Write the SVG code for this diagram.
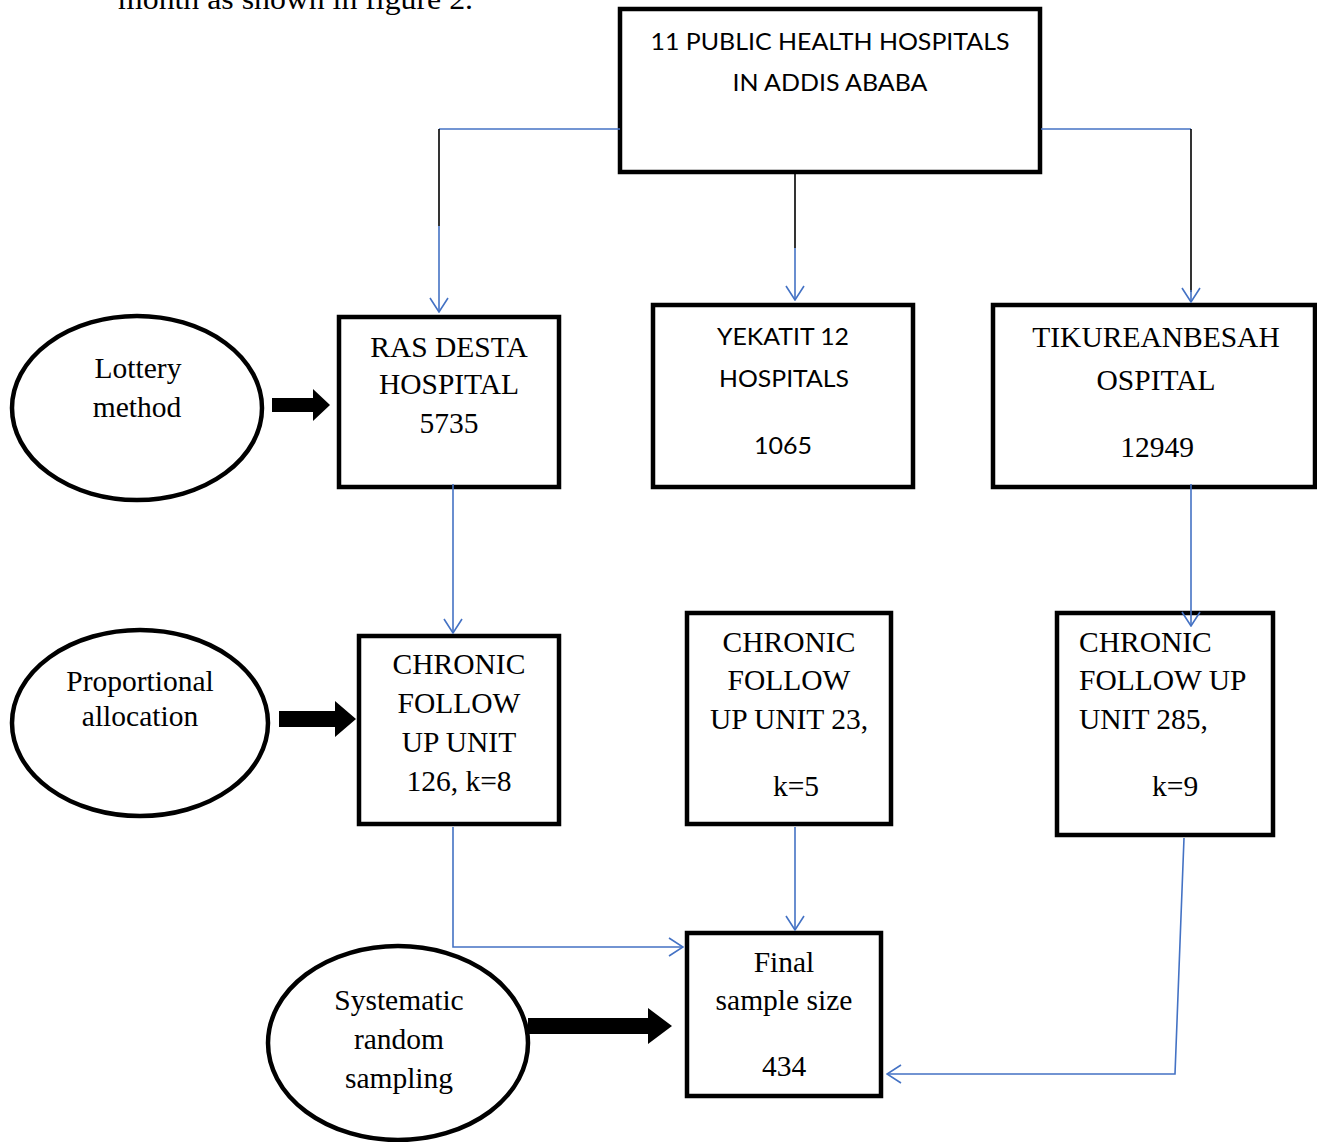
<svg xmlns="http://www.w3.org/2000/svg" width="1317" height="1142" viewBox="0 0 1317 1142">
<style>
.box{fill:#fff;stroke:#000;stroke-width:4.5}
.ell{fill:#fff;stroke:#000;stroke-width:4.5}
.tr{font-family:"Liberation Serif","Times New Roman",serif;font-size:29.5px;fill:#000}
.sn{font-family:Lato,"Liberation Sans",sans-serif;font-size:23px;fill:#000}
.c{text-anchor:middle}
.bl{fill:none;stroke:#4472C4;stroke-width:1.6}
.bk{fill:none;stroke:#000;stroke-width:1.6}
.fat{fill:#000}
</style>
<defs>
<marker id="ah" viewBox="0 0 16 20" refX="15" refY="10" markerWidth="16" markerHeight="20" markerUnits="userSpaceOnUse" orient="auto">
<path d="M1,1 L15,10 L1,19" fill="none" stroke="#4472C4" stroke-width="1.6"/>
</marker>
</defs>
<rect width="1317" height="1142" fill="#fff"/>
<text class="tr" x="118" y="9" font-size="32" textLength="355" lengthAdjust="spacingAndGlyphs">month as shown in figure 2.</text>

<g id="top">
<rect class="box" x="620" y="9" width="420" height="163"/>
<text class="sn c" x="830" y="50" textLength="359" lengthAdjust="spacingAndGlyphs">11 PUBLIC HEALTH HOSPITALS</text>
<text class="sn c" x="830" y="91" textLength="195" lengthAdjust="spacingAndGlyphs">IN ADDIS ABABA</text>
</g>

<g id="rasdesta">
<rect class="box" x="339" y="317" width="220" height="170"/>
<text class="tr c" x="449" y="357">RAS DESTA</text>
<text class="tr c" x="449" y="394">HOSPITAL</text>
<text class="tr c" x="449" y="433">5735</text>
</g>

<g id="yekatit">
<rect class="box" x="653" y="305" width="260" height="182"/>
<text class="sn c" x="783" y="345" textLength="132" lengthAdjust="spacingAndGlyphs">YEKATIT 12</text>
<text class="sn c" x="784" y="387" textLength="130" lengthAdjust="spacingAndGlyphs">HOSPITALS</text>
<text class="sn c" x="783" y="454" textLength="58" lengthAdjust="spacingAndGlyphs">1065</text>
</g>

<g id="tikur">
<rect class="box" x="993" y="305" width="322" height="182"/>
<text class="tr c" x="1156" y="347" font-size="34.5">TIKUREANBESAH</text>
<text class="tr c" x="1156" y="390" font-size="34.5">OSPITAL</text>
<text class="tr c" x="1157" y="457" font-size="34.5">12949</text>
</g>

<g id="lottery">
<ellipse class="ell" cx="137" cy="408" rx="125" ry="92"/>
<text class="tr c" x="138" y="378">Lottery</text>
<text class="tr c" x="137" y="417">method</text>
</g>

<g id="chronic126">
<rect class="box" x="359" y="636" width="200" height="188"/>
<text class="tr c" x="459" y="674">CHRONIC</text>
<text class="tr c" x="459" y="713">FOLLOW</text>
<text class="tr c" x="459" y="752">UP UNIT</text>
<text class="tr c" x="459" y="791">126, k=8</text>
</g>

<g id="proportional">
<ellipse class="ell" cx="140" cy="723" rx="128" ry="93"/>
<text class="tr c" x="140" y="691" font-size="25">Proportional</text>
<text class="tr c" x="140" y="726" font-size="25">allocation</text>
</g>

<g id="chronic23">
<rect class="box" x="687" y="613" width="204" height="211"/>
<text class="tr c" x="789" y="652">CHRONIC</text>
<text class="tr c" x="789" y="690">FOLLOW</text>
<text class="tr c" x="789" y="729">UP UNIT 23,</text>
<text class="tr c" x="796" y="796">k=5</text>
</g>

<g id="chronic285">
<rect class="box" x="1057" y="613" width="216" height="222"/>
<text class="tr" x="1079" y="652">CHRONIC</text>
<text class="tr" x="1079" y="690">FOLLOW UP</text>
<text class="tr" x="1079" y="729">UNIT 285,</text>
<text class="tr" x="1152" y="796">k=9</text>
</g>

<g id="systematic">
<ellipse class="ell" cx="398" cy="1043" rx="130" ry="97"/>
<text class="tr c" x="399" y="1010">Systematic</text>
<text class="tr c" x="399" y="1049">random</text>
<text class="tr c" x="399" y="1088">sampling</text>
</g>

<g id="final">
<rect class="box" x="687" y="933" width="194" height="163"/>
<text class="tr c" x="784" y="972">Final</text>
<text class="tr c" x="784" y="1010">sample size</text>
<text class="tr c" x="784" y="1076">434</text>
</g>

<g id="connectors">
<path class="bl" d="M620,129 H439"/>
<path class="bk" d="M439,129 V226"/>
<path class="bl" d="M439,226 V312" marker-end="url(#ah)"/>
<path class="bk" d="M795,173 V248"/>
<path class="bl" d="M795,248 V300" marker-end="url(#ah)"/>
<path class="bl" d="M1041,129 H1191"/>
<path class="bk" d="M1191,129 V292"/>
<path class="bl" d="M1191,290 V302" marker-end="url(#ah)"/>
<path class="bl" d="M453,484 V633" marker-end="url(#ah)"/>
<path class="bl" d="M1191,484 V626" marker-end="url(#ah)"/>
<path class="bl" d="M453,827 V947 H683" marker-end="url(#ah)"/>
<path class="bl" d="M795,827 V930" marker-end="url(#ah)"/>
<path class="bl" d="M1184,838 L1175,1074 H887" marker-end="url(#ah)"/>
<polygon class="fat" points="272,398 313,398 313,389 330,405 313,421 313,412 272,412"/>
<polygon class="fat" points="279,711 335,711 335,701 356,719 335,737 335,727 279,727"/>
<polygon class="fat" points="528,1018 648,1018 648,1008 672,1026 648,1044 648,1034 528,1034"/>
</g>
</svg>
